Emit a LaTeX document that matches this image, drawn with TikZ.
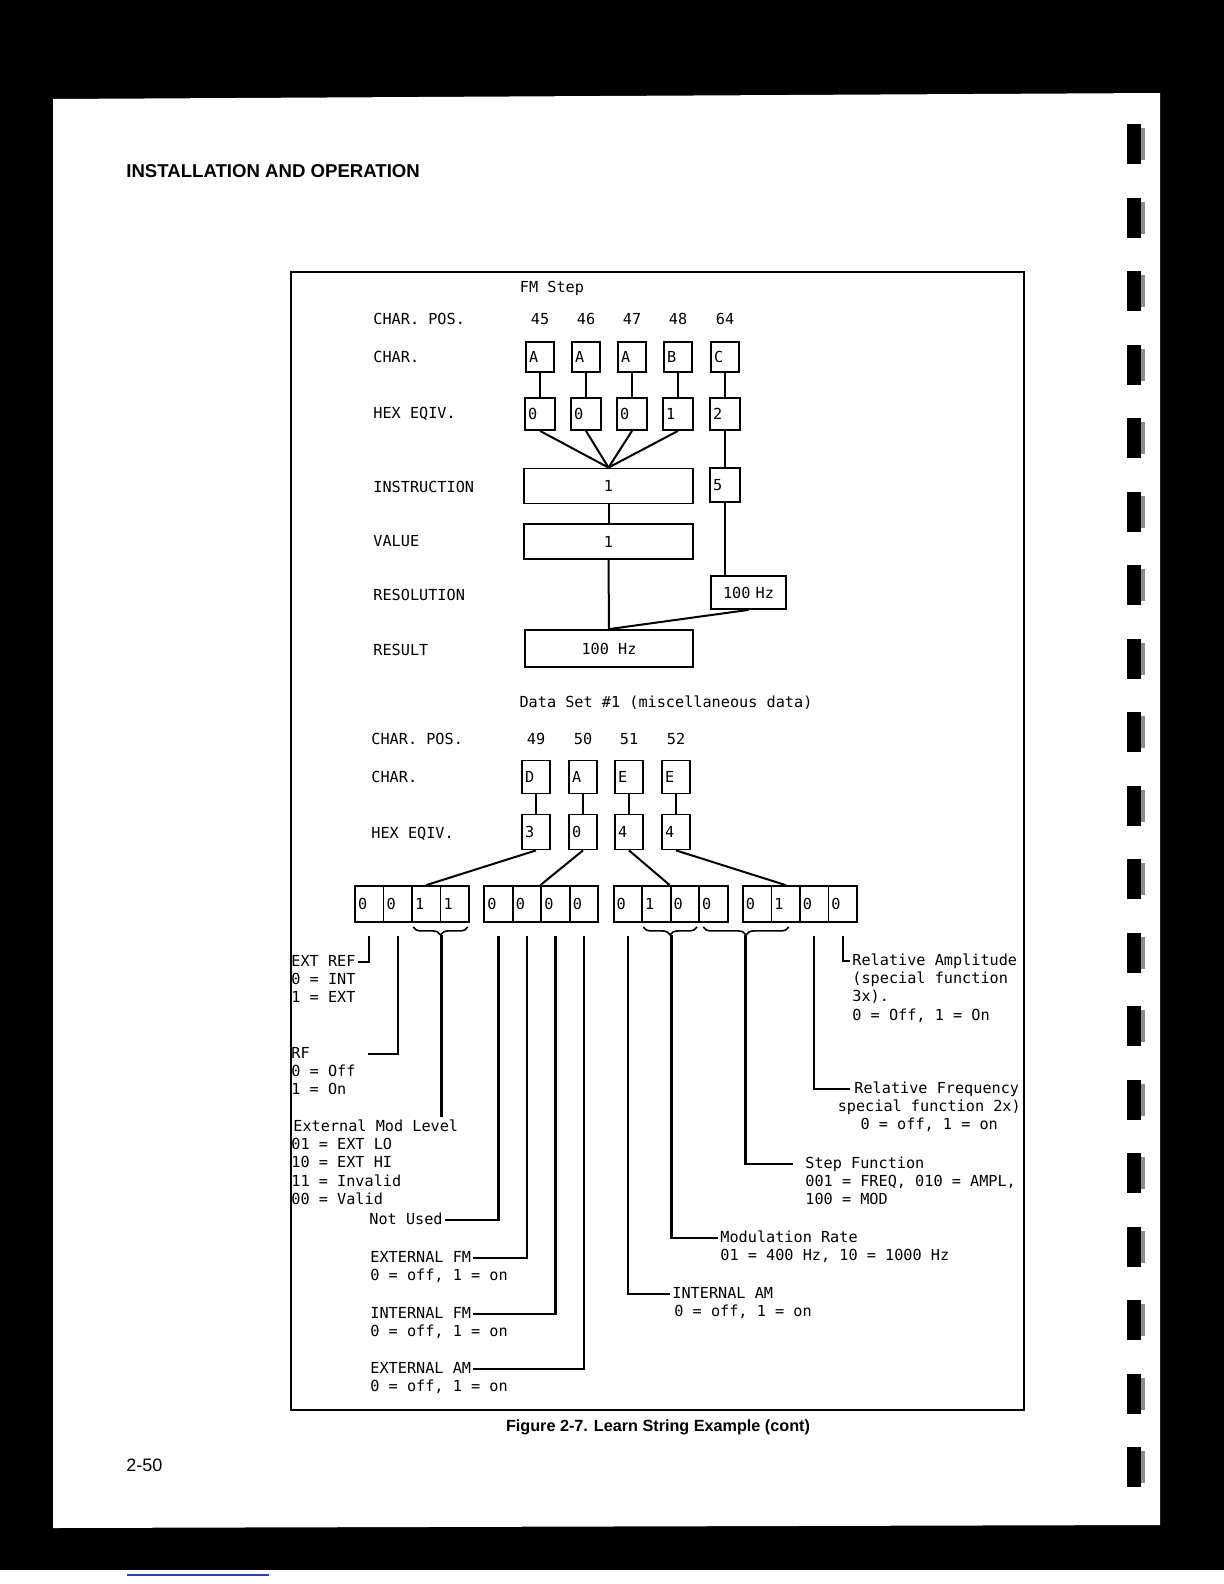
\documentclass[tikz,border=0pt]{standalone}
\usepackage{fontspec}
\setmainfont{Liberation Sans}
\newfontfamily\plotfont{DejaVu Sans Mono}
\usetikzlibrary{positioning,calc,decorations.pathreplacing}
\definecolor{scanblue}{HTML}{2F3FB0}
\newcommand\ptxt{\plotfont\fontsize{7.6bp}{9.2bp}\selectfont}
\tikzset{
  txt/.style={font=\ptxt, inner sep=1bp, text height=5.6bp, text depth=1.6bp},
  note/.style={font=\ptxt, inner sep=1bp, align=left, anchor=base west},
  chbox/.style={draw, line width=0.9bp, font=\ptxt, minimum width=14bp, minimum height=15bp,
                text width=11bp, inner xsep=1.5bp, align=left, text height=5.6bp, text depth=0pt},
  wide/.style={draw, line width=0.9bp, font=\ptxt, minimum width=84.5bp, minimum height=17.5bp,
               text height=5.6bp, text depth=0pt},
  bitbox/.style={chbox, minimum width=14.25bp, minimum height=18bp, text width=11.25bp},
  link/.style={line width=1bp},
  lead/.style={line width=1.1bp},
  brc/.style={line width=0.8bp, decorate, decoration={brace, amplitude=4bp}}
}
\begin{document}
\begin{tikzpicture}[x=0.5bp, y=-0.5bp]
  \useasboundingbox (0,0) rectangle (1224,1584);
  % scanned page
  \fill[black] (0,0) rectangle (1224,1584);
  \fill[white] (0,1570) rectangle (1224,1584);
  \draw[scanblue, line width=1bp] (127,1575) -- (269,1575);
  \fill[white] (53,99) -- (600,96) -- (1160,93) -- (1160,1525) -- (53,1528) -- cycle;
  \foreach \k in {0,...,18} {
    \fill[black] (1127,{124+73.5*\k}) rectangle (1141,{164+73.5*\k});
    \fill[black!45] (1141,{128+73.5*\k}) rectangle (1145,{160+73.5*\k});
  }
  \node[anchor=west, inner sep=0, font=\bfseries\fontsize{9.3bp}{11bp}\selectfont] (hdr) at (126,171) {INSTALLATION AND OPERATION};
  \node[anchor=west, inner sep=0, font=\fontsize{9bp}{11bp}\selectfont] (pgno) at (126,1465) {2-50};
  \node[inner sep=0, font=\bfseries\fontsize{8.1bp}{10bp}\selectfont] (cap) at (658,1427) {Figure 2-7. Learn String Example (cont)};
  \draw[line width=1bp] (291,272) rectangle (1024,1410);

  % FM step
  \node[txt] (fmt) at (552,288) {FM Step};
  \node[txt, anchor=west] (fpos) at (371,320) {CHAR. POS.};
  \node[txt, anchor=west] (fchr) at (371,358) {CHAR.};
  \node[txt, anchor=west] (fhex) at (371,414) {HEX EQIV.};
  \node[txt, anchor=west] (fins) at (371,488) {INSTRUCTION};
  \node[txt, anchor=west] (fval) at (371,542) {VALUE};
  \node[txt, anchor=west] (fres) at (371,596) {RESOLUTION};
  \node[txt, anchor=west] (fout) at (371,651) {RESULT};
  \foreach \x/\p/\c/\h [count=\i] in {540/45/A/0, 586/46/A/0, 632/47/A/0, 678/48/B/1, 725/64/C/2} {
    \node[txt] (fn\i) at (\x,320) {\p};
    \node[chbox] (fc\i) at (\x,357) {\c};
    \node[chbox, minimum width=15bp, text width=12bp, minimum height=16bp] (fh\i) at (\x,414) {\h};
    \draw[link] (fc\i) -- (fh\i);
  }
  \node[wide] (fi) at (608.5,486) {1};
  \node[chbox, minimum width=15bp, text width=12bp, minimum height=17bp] (f5) at (725,485) {5};
  \node[wide] (fv) at (608.5,541.5) {1};
  \node[chbox, minimum width=37.5bp, text width=34.5bp, minimum height=16.5bp, align=center] (fr) at (748.5,592.5) {100 Hz};
  \node[wide, minimum width=84bp, minimum height=18.5bp] (fo) at (609,648.5) {100 Hz};
  \foreach \i in {1,...,4} \draw[link] (fh\i.south) -- (fi.north);
  \draw[link] (fh5) -- (f5);
  \draw[link] (fi) -- (fv);
  \draw[link] (fv) -- (fo);
  \draw[link] (f5.south) -- (f5.south |- fr.north);
  \draw[link] (fr.south) -- (fo.north);

  % data set 1
  \node[txt] (dst) at (666,703) {Data Set \#1 (miscellaneous data)};
  \node[txt, anchor=west] (dpos) at (369,740) {CHAR. POS.};
  \node[txt, anchor=west] (dchr) at (369,778) {CHAR.};
  \node[txt, anchor=west] (dhex) at (369,834) {HEX EQIV.};
  \foreach \x/\p/\c/\h [count=\i] in {536/49/D/3, 583/50/A/0, 629/51/E/4, 676/52/E/4} {
    \node[txt] (dn\i) at (\x,740) {\p};
    \node[chbox, minimum height=16.5bp] (dc\i) at (\x,777) {\c};
    \node[chbox, minimum height=17.5bp] (dh\i) at (\x,832) {\h};
    \draw[link] (dc\i) -- (dh\i);
  }
  \foreach \v [count=\k from 0] in {0,0,1,1,0,0,0,0,0,1,0,0,0,1,0,0} {
    \pgfmathsetmacro\bx{355+129.3*int(\k/4)+28.5*(mod(\k,4)+0.5)}
    \pgfmathtruncatemacro\n{\k+1}
    \node[bitbox] (b\n) at (\bx,904) {\v};
  }
  \draw[link] (dh1.south) -- (b3.north);
  \draw[link] (dh2.south) -- (b7.north west);
  \draw[link] (dh3.south) -- (b11.north west);
  \draw[link] (dh4.south) -- (b14.north);

  \draw[brc] ($(b4.south east)+(-2,4)$) -- ($(b3.south west)+(2,4)$);
  \draw[brc] ($(b11.south east)+(-3,4)$) -- ($(b10.south west)+(2,4)$);
  \draw[brc] ($(b14.south east)+(-12,4)$) -- ($(b12.south west)+(5,4)$);
  \coordinate (lvlk) at ($(b3.south east)+(0,12)$);
  \coordinate (ratek) at ($(b10.south east)+(0,12)$);
  \coordinate (stepk) at ($(b12.south west)!0.5!(b14.south east)+(-4,12)$);
  \coordinate (lt) at (0,936);

  % bit meanings (a note's base is its last line)
  \node[txt, anchor=west] (extref) at (289,962) {EXT REF};
  \node[note] (extrefv) at ($(extref.base west)+(0,36.8)$) {0 = INT\\1 = EXT};
  \node[txt, anchor=west] (rf) at (289,1054) {RF};
  \node[note] (rfv) at ($(rf.base west)+(0,36.8)$) {0 = Off\\1 = On};
  \node[txt, anchor=west] (extmod) at (291,1127) {External Mod Level};
  \node[note] (extmodv) at ($(extmod.base west)+(-2,73.6)$) {01 = EXT LO\\10 = EXT HI\\11 = Invalid\\00 = Valid};
  \node[txt, anchor=west] (notused) at (367,1220) {Not Used};
  \node[txt, anchor=west] (extfm) at (368,1258) {EXTERNAL FM};
  \node[note] (extfmv) at ($(extfm.base west)+(0,18.4)$) {0 = off, 1 = on};
  \node[txt, anchor=west] (intfm) at (368,1314) {INTERNAL FM};
  \node[note] (intfmv) at ($(intfm.base west)+(0,18.4)$) {0 = off, 1 = on};
  \node[txt, anchor=west] (extam) at (368,1369) {EXTERNAL AM};
  \node[note] (extamv) at ($(extam.base west)+(0,18.4)$) {0 = off, 1 = on};
  \node[txt, anchor=west] (intam) at (670,1294) {INTERNAL AM};
  \node[note] (intamv) at ($(intam.base west)+(2,18.4)$) {0 = off, 1 = on};
  \node[txt, anchor=west] (modrate) at (718,1238) {Modulation Rate};
  \node[note] (modratev) at ($(modrate.base west)+(0,18.4)$) {01 = 400 Hz, 10 = 1000 Hz};
  \node[txt, anchor=west] (stepfn) at (803,1164) {Step Function};
  \node[note] (stepfnv) at ($(stepfn.base west)+(0,36.8)$) {001 = FREQ, 010 = AMPL,\\100 = MOD};
  \node[txt, anchor=west] (relfreq) at (852,1089) {Relative Frequency};
  \node[note, align=center, anchor=base] (relfreqv) at ($(relfreq.base)+(-7.5,36.8)$) {special function 2x)\\0 = off, 1 = on};
  \node[txt, anchor=west] (relamp) at (850,961) {Relative Amplitude};
  \node[note] (relampv) at ($(relamp.base west)+(0,55.2)$) {(special function\\3x).\\0 = Off, 1 = On};

  \draw[lead] (b1.south |- lt) |- (extref.east);
  \draw[lead, shorten >=28bp] (b2.south |- lt) |- (rf.east);
  \draw[lead] (lvlk) -- (lvlk |- extmod.north);
  \draw[lead] (b5.south |- lt) |- (notused.east);
  \draw[lead] (b6.south |- lt) |- (extfm.east);
  \draw[lead] (b7.south |- lt) |- (intfm.east);
  \draw[lead] (b8.south |- lt) |- (extam.east);
  \draw[lead] (b9.south |- lt) |- (intam.west);
  \draw[lead] (ratek) |- (modrate.west);
  \draw[lead, shorten >=5bp] (stepk) |- (stepfn.west);
  \draw[lead, shorten >=1bp] (b15.south |- lt) |- (relfreq.west);
  \draw[lead] (b16.south |- lt) |- (relamp.west);
\end{tikzpicture}
\end{document}
